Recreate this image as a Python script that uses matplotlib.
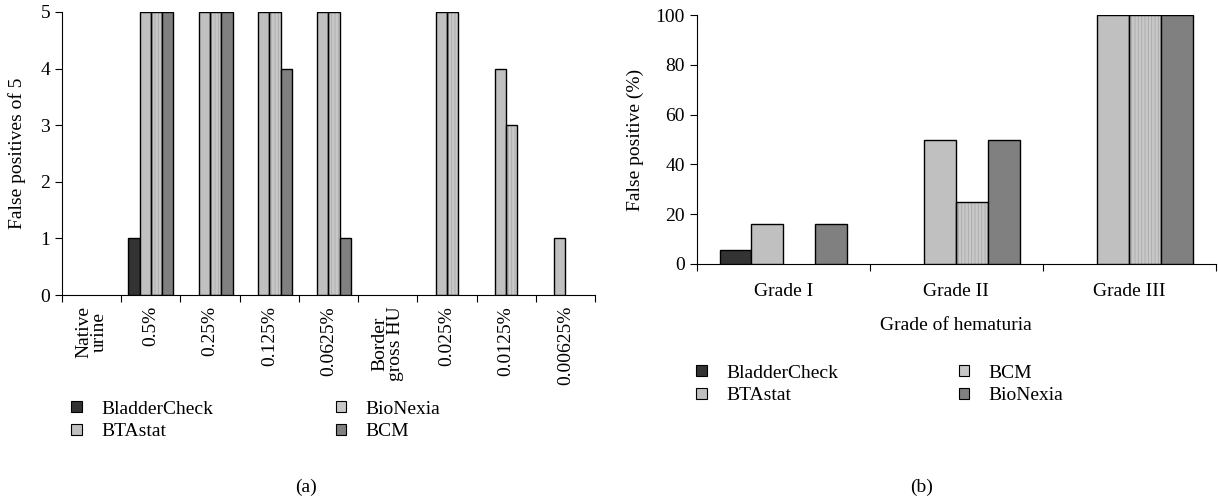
import matplotlib
matplotlib.use("Agg")
import matplotlib.pyplot as plt
import numpy as np
from matplotlib.patches import Patch

plt.rcParams["font.family"] = ["Liberation Serif", "DejaVu Serif"]
plt.rcParams["hatch.linewidth"] = 0.6

# panel (a): false positives of 5 per dilution
dilutions = ["Native\nurine", "0.5%", "0.25%", "0.125%", "0.0625%",
             "Border\ngross HU", "0.025%", "0.0125%", "0.00625%"]
a_bladdercheck = [0, 1, 0, 0, 0, 0, 0, 0, 0]
a_btastat = [0, 5, 5, 5, 5, 0, 5, 4, 1]
a_bionexia = [0, 5, 5, 5, 5, 0, 5, 3, 0]
a_bcm = [0, 5, 5, 4, 1, 0, 0, 0, 0]
a_names = ["BladderCheck", "BTAstat", "BioNexia", "BCM"]

# panel (b): false positive (%) by grade of hematuria
grades = ["Grade I", "Grade II", "Grade III"]
b_bladdercheck = [5.5, 0, 0]
b_btastat = [16, 50, 100]
b_bcm = [0, 25, 100]
b_bionexia = [16, 50, 100]
b_names = ["BladderCheck", "BTAstat", "BCM", "BioNexia"]

DARK = "#333333"
LIGHT = "#c0c0c0"
STIPPLE = "#c8c8c8"
MID = "#808080"
styles = [DARK, LIGHT, STIPPLE, MID]

FS = 14


def draw_bars(ax, series, bar_w):
    n = len(series[0])
    x = np.arange(n)
    for i, vals in enumerate(series):
        vals = np.asarray(vals, dtype=float)
        keep = vals > 0  # zero values leave no mark in the original
        pos = (x + (i - 1.5) * bar_w)[keep]
        vals = vals[keep]
        col = styles[i]
        if col == STIPPLE:
            ax.bar(pos, vals, bar_w, color=col, hatch="|||||",
                   edgecolor="#a9a9a9", linewidth=0, zorder=2)
            ax.bar(pos, vals, bar_w, fill=False, edgecolor="black",
                   linewidth=1.0, zorder=3)
        else:
            ax.bar(pos, vals, bar_w, color=col, edgecolor="black",
                   linewidth=1.0, zorder=3)
    ax.set_xlim(-0.5, n - 0.5)
    ax.set_xticks(np.arange(n + 1) - 0.5)
    ax.set_xticklabels([])
    ax.set_xticks(x, minor=True)
    ax.tick_params(axis="x", which="minor", length=0)
    ax.tick_params(axis="x", which="major", direction="out", length=5)
    ax.tick_params(axis="y", direction="out", length=5, labelsize=FS)
    for s in ["top", "right"]:
        ax.spines[s].set_visible(False)


def legend_handles(names):
    hs = []
    for i, nm in enumerate(names):
        hs.append(Patch(facecolor=styles[i], edgecolor="black", linewidth=0.8, label=nm))
    return hs


fig = plt.figure(figsize=(12.18, 5), dpi=100)

ax1 = fig.add_axes([0.0509, 0.41, 0.4376, 0.566])
draw_bars(ax1, [a_bladdercheck, a_btastat, a_bionexia, a_bcm], 0.19)
ax1.set_ylim(0, 5)
ax1.set_yticks(range(0, 6))
ax1.set_xticklabels(dilutions, minor=True, rotation=90, fontsize=FS,
                    va="top", ha="center", linespacing=0.9)
ax1.tick_params(axis="x", which="minor", pad=8)
ax1.set_ylabel("False positives of 5", fontsize=FS, labelpad=10)
ax1.legend(handles=legend_handles(a_names), ncol=2, loc="upper left",
           bbox_to_anchor=(0.044, 0.234), bbox_transform=fig.transFigure,
           frameon=False, fontsize=FS, handlelength=0.55, handleheight=0.55,
           handletextpad=1.0, columnspacing=6.3, labelspacing=0.3)
fig.text(0.251, 0.025, "(a)", fontsize=FS, ha="center", va="center")

ax2 = fig.add_axes([0.572, 0.472, 0.426, 0.498])
draw_bars(ax2, [b_bladdercheck, b_btastat, b_bcm, b_bionexia], 0.184)
ax2.set_ylim(0, 100)
ax2.set_yticks(range(0, 101, 20))
ax2.set_xticklabels(grades, minor=True, fontsize=FS)
ax2.tick_params(axis="x", which="minor", pad=14)
ax2.set_xlabel("Grade of hematuria", fontsize=FS, labelpad=12)
ax2.set_ylabel("False positive (%)", fontsize=FS, labelpad=8)
ax2.legend(handles=legend_handles(b_names), ncol=2, loc="upper left",
           bbox_to_anchor=(0.557, 0.306), bbox_transform=fig.transFigure,
           frameon=False, fontsize=FS, handlelength=0.55, handleheight=0.55,
           handletextpad=1.0, columnspacing=6.2, labelspacing=0.3)
fig.text(0.757, 0.025, "(b)", fontsize=FS, ha="center", va="center")

fig.savefig("out.png", dpi=100)
